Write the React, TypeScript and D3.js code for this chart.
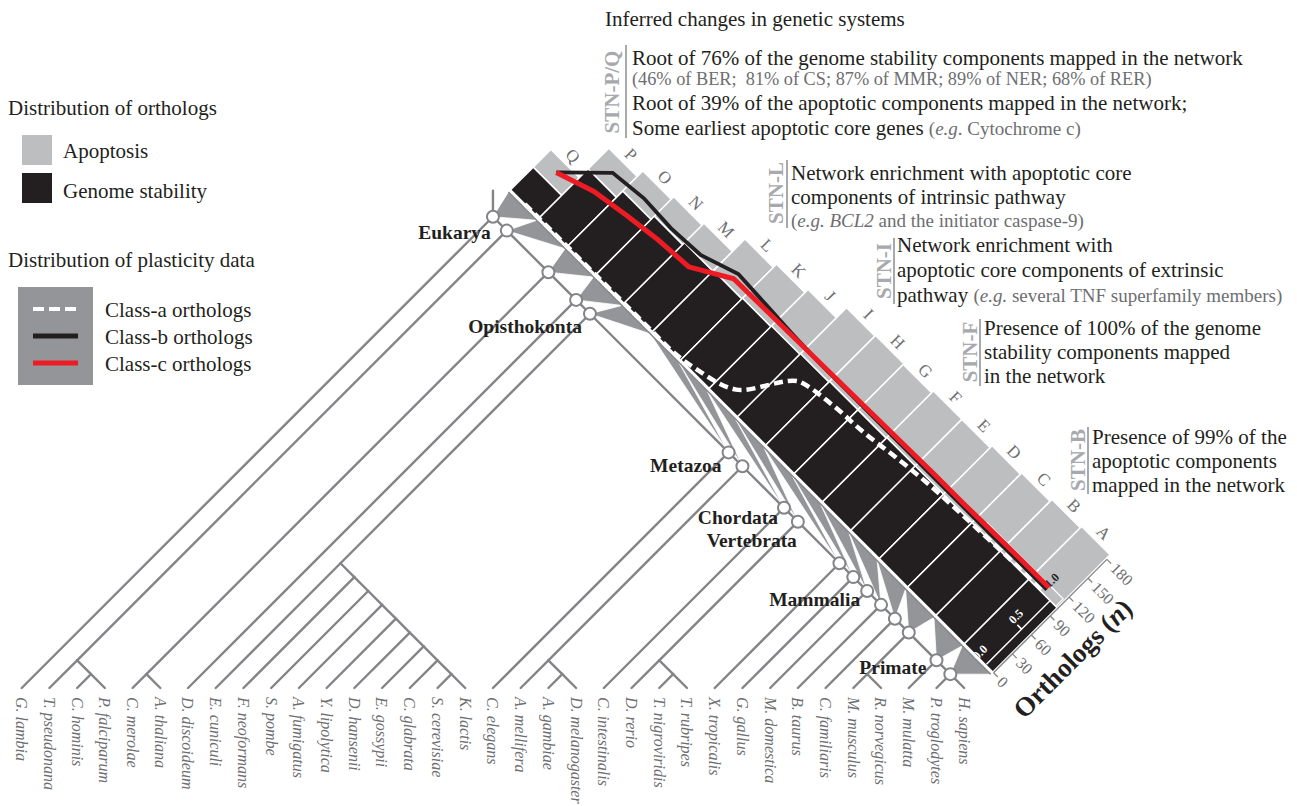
import * as d3 from "d3";

// ---- data ----
const species = [
  "G. lambia", "T. pseudonana", "C. hominis", "P. falciparum", "C. merolae", "A. thaliana",
  "D. discoideum", "E. cuniculi", "F. neoformans", "S. pombe", "A. fumigatus", "Y. lipolytica",
  "D. hansenii", "E. gossypii", "C. glabrata", "S. cerevisiae", "K. lactis", "C. elegans",
  "A. mellifera", "A. gambiae", "D. melanogaster", "C. intestinalis", "D. rerio",
  "T. nigroviridis", "T. rubripes", "X. tropicalis", "G. gallus", "M. domestica", "B. taurus",
  "C. familiaris", "M. musculus", "R. norvegicus", "M. mulatta", "P. troglodytes", "H. sapiens",
];

const fungi = ["E. cuniculi", ["F. neoformans", ["S. pombe", ["A. fumigatus", ["Y. lipolytica",
  ["D. hansenii", ["E. gossypii", ["C. glabrata", ["S. cerevisiae", "K. lactis"]]]]]]]]];
const vertebrates = ["X. tropicalis", ["G. gallus", ["M. domestica", ["B. taurus", ["C. familiaris",
  [["M. musculus", "R. norvegicus"], ["M. mulatta", ["P. troglodytes", "H. sapiens"]]]]]]]];
const metazoa = ["C. elegans", [["A. mellifera", ["A. gambiae", "D. melanogaster"]],
  ["C. intestinalis", [["D. rerio", ["T. nigroviridis", "T. rubripes"]], vertebrates]]]];
const topology = ["G. lambia", [["T. pseudonana", ["C. hominis", "P. falciparum"]],
  [["C. merolae", "A. thaliana"], ["D. discoideum", [fungi, metazoa]]]]];

const cells = ["Q", "P", "O", "N", "M", "L", "K", "J", "I", "H", "G", "F", "E", "D", "C", "B", "A"];
const genomeStability = [36, 78, 88, 93, 96, 97, 98, 99, 100, 101, 101, 102, 102, 102, 102, 102, 102];
const apoptosis = [28, 33, 32, 31, 31, 50, 54, 58, 73, 73, 72, 74, 74, 77, 79, 82, 84];
const orthologTicks = [0, 30, 60, 90, 120, 150, 180];

const classA = [0, 0, 0, 0, 0, 0, 0.05, 0.18, 0.68, 0.745, 0.77, 0.82, 0.86, 0.88, 0.895, 0.91, 0.925];
const classB = [0.44, 0.83, 0.87, 0.85, 0.87, 1.0, 0.98, 0.96, 0.945, 0.945, 0.945, 0.945, 0.945, 0.945, 0.945, 0.95, 0.95];
const classC = [0.44, 0.57, 0.63, 0.68, 0.705, 0.935, 0.94, 0.945, 0.95, 0.955, 0.96, 0.965, 0.97, 0.97, 0.975, 0.98, 0.98];
const plasticityTicks = [0, 0.5, 1];

// clade labels: backbone node index, dx, dy
const cladeLabels: [string, number, number, number][] = [
  ["Eukarya", 1, -16, 8],
  ["Opisthokonta", 4, -8, 19],
  ["Metazoa", 5, -7, 20],
  ["Chordata", 7, -6, 16],
  ["Vertebrata", 8, -1, 25],
  ["Mammalia", 11, -7, 15],
  ["Primate", 15, -10, 14],
];

const SERIF = "'Liberation Serif', 'DejaVu Serif', serif";
const DARK = "#231f20";
const LIGHT = "#bcbec0";
const MID = "#939598";
const TREE = "#838487";
const STN = "#a7a9ac";
const LABEL = "#6d6e71";
const RED = "#ed1c24";
const R2 = Math.SQRT1_2;

export default function App() {
  const leafY = 688;
  const leafX = d3.scalePoint<string>().domain(species).range([21.7, 964.2]);

  const root: any = d3.hierarchy<any>(topology, (d) => (Array.isArray(d) ? d : null));
  root.each((n: any) => {
    const xs = n.leaves().map((l: any) => leafX(l.data)!);
    const xl = d3.min(xs)!, xr = d3.max(xs)!;
    n.x = (xl + xr) / 2;
    n.y = leafY - (xr - xl) / 2;
  });
  const hs = root.leaves().find((l: any) => l.data === "H. sapiens");
  const backbone: any[] = hs.ancestors().slice(1).reverse();

  // rotated strip frame (s along the backbone, h away from it)
  const ox = root.x + R2 * (-6.6 + 31.5);
  const oy = root.y + R2 * (-6.6 - 31.5);
  const toScreen = (s: number, h: number) => [ox + R2 * (s + h), oy + R2 * (s - h)];
  const stripLen = 682;
  const band = d3.scaleBand<string>().domain(cells).range([0, stripLen]);
  const bw = band.bandwidth();
  const hScale = d3.scaleLinear().domain([0, 180]).range([0, 160.4]);
  const pScale = d3.scaleLinear().domain([0, 1]).range([0, 101.5]);
  const cx = (i: number) => band(cells[i])! + bw / 2;

  const line = d3.line<number>().x((_, i) => cx(i)).y((v) => -pScale(v));
  const smooth = d3.line<number>().x((_, i) => cx(i)).y((v) => -pScale(v)).curve(d3.curveMonotoneX);
  const L = stripLen;

  return (
    <svg width={1297} height={806} style={{ position: "absolute", left: 0, top: 0, background: "#fff" }}
      fontFamily={SERIF}>
      {/* legend */}
      <g fill={DARK} fontSize={21}>
        <text x={8} y={115}>Distribution of orthologs</text>
        <rect x={22} y={135} width={30} height={30} fill={LIGHT} />
        <text x={63} y={158}>Apoptosis</text>
        <rect x={22} y={173} width={30} height={30} fill={DARK} />
        <text x={63} y={198}>Genome stability</text>
        <text x={8} y={267}>Distribution of plasticity data</text>
        <rect x={18} y={287} width={75} height={98} fill={MID} />
        <line x1={33} x2={78} y1={309} y2={309} stroke="#fff" strokeWidth={4} strokeDasharray="11 5" />
        <line x1={33} x2={78} y1={336} y2={336} stroke={DARK} strokeWidth={5} />
        <line x1={33} x2={78} y1={363} y2={363} stroke={RED} strokeWidth={5} />
        <text x={105} y={317}>Class-a orthologs</text>
        <text x={105} y={344}>Class-b orthologs</text>
        <text x={105} y={371}>Class-c orthologs</text>
      </g>

      {/* tree */}
      <g stroke={TREE} strokeWidth={2.4} strokeLinecap="round">
        {root.links().map((lk: any, i: number) => (
          <line key={i} x1={lk.source.x} y1={lk.source.y} x2={lk.target.x} y2={lk.target.y} />
        ))}
        <line x1={root.x} y1={root.y} x2={root.x} y2={root.y - 26} />
      </g>

      {/* wedges from backbone nodes to their bars */}
      <g fill={MID} stroke="#fff" strokeWidth={0.8}>
        {backbone.map((n, i) => {
          const a = toScreen(band(cells[i])!, -3);
          const b = toScreen(band(cells[i])! + bw, -3);
          return <polygon key={i} points={`${n.x},${n.y} ${a[0]},${a[1]} ${b[0]},${b[1]}`} />;
        })}
      </g>

      {/* strip */}
      <g transform={`translate(${ox},${oy}) rotate(45)`}>
        <line x1={0} x2={L} y1={3} y2={3} stroke={TREE} strokeWidth={1.5} />
        {cells.map((c, i) => (
          <g key={c} stroke="#fff" strokeWidth={1.5}>
            <rect x={band(c)} width={bw} y={-hScale(genomeStability[i] + apoptosis[i])}
              height={hScale(genomeStability[i] + apoptosis[i]) - hScale(genomeStability[i])} fill={LIGHT} />
            <rect x={band(c)} width={bw} y={-hScale(genomeStability[i])} height={hScale(genomeStability[i])} fill={DARK} />
          </g>
        ))}
        {cells.map((c, i) => (
          <text key={c} x={cx(i)} y={-(hScale(genomeStability[i] + apoptosis[i]) + 11)} fontSize={17}
            fill={LABEL} textAnchor="middle" dominantBaseline="central">{c}</text>
        ))}

        {/* plasticity scale */}
        <g stroke="#fff" strokeWidth={1.5} fill="none">
          <line x1={L - 10} x2={L - 10} y1={-1} y2={-hScale(genomeStability[16])} />
          <line x1={L - 16} x2={L - 10} y1={-pScale(0.5)} y2={-pScale(0.5)} />
          <polyline strokeWidth={1.2}
            points={`${L - 110},${-pScale(1)} ${L - 2},${-pScale(1)} ${L - 2},${-hScale(genomeStability[16])}`} />
        </g>
        {plasticityTicks.map((v) => (
          <text key={v} transform={`translate(${L - 23},${-(pScale(v) + 5)}) rotate(-90)`} fontSize={12}
            fontWeight="bold" fill={v < 1 ? "#fff" : DARK} textAnchor="middle" dominantBaseline="central">
            {v.toFixed(1)}
          </text>
        ))}

        <path d={smooth(classA)!} fill="none" stroke="#fff" strokeWidth={4.5} strokeDasharray="9 5" />
        <path d={line(classB)!} fill="none" stroke={DARK} strokeWidth={3.8} strokeLinejoin="miter" />
        <path d={line(classC)!} fill="none" stroke={RED} strokeWidth={5} strokeLinejoin="round" />

        {/* ortholog axis */}
        <line x1={L + 1} x2={L + 1} y1={0} y2={-hScale(180)} stroke={TREE} strokeWidth={1.3} />
        {orthologTicks.map((t) => (
          <g key={t}>
            <line x1={L + 1} x2={L + 7} y1={-hScale(t)} y2={-hScale(t)} stroke={TREE} strokeWidth={1.3} />
            <text x={L + 10} y={-hScale(t)} fontSize={16} fill={LABEL} dominantBaseline="central">{t}</text>
          </g>
        ))}
        <text transform={`translate(${L + 47},${-66}) rotate(-90)`} fontSize={27} fontWeight="bold"
          fill={DARK} textAnchor="middle" dominantBaseline="central">
          Orthologs (<tspan fontStyle="italic">n</tspan>)
        </text>
      </g>

      {/* node circles */}
      <g fill="#fff" stroke={TREE} strokeWidth={2}>
        {backbone.map((n, i) => <circle key={i} cx={n.x} cy={n.y} r={6} />)}
      </g>

      {/* clade labels */}
      <g fontSize={19.5} fontWeight="bold" fill={DARK} textAnchor="end">
        {cladeLabels.map(([t, k, dx, dy]) => (
          <text key={t} x={backbone[k].x + dx} y={backbone[k].y + dy}>{t}</text>
        ))}
      </g>

      {/* leaf labels */}
      <g fontSize={16} fontStyle="italic" fill={LABEL}>
        {species.map((s) => (
          <text key={s} transform={`translate(${leafX(s)},${leafY + 9}) rotate(90)`} dy="0.35em">{s}</text>
        ))}
      </g>

      {/* annotations */}
      <g fontSize={21} fill={DARK}>
        <text x={605} y={26}>Inferred changes in genetic systems</text>

        <text transform="translate(612,92) rotate(-90)" textAnchor="middle" dominantBaseline="central"
          fontWeight="bold" fill={STN}>STN-P/Q</text>
        <line x1={626} x2={626} y1={45} y2={138} stroke={STN} strokeWidth={2} />
        <text x={632} y={65}>Root of 76% of the genome stability components mapped in the network</text>
        <text x={632} y={85} fontSize={18.3} fill={LABEL} style={{ whiteSpace: "pre" }}>
          (46% of BER;  81% of CS; 87% of MMR; 89% of NER; 68% of RER)
        </text>
        <text x={632} y={110}>Root of 39% of the apoptotic components mapped in the network;</text>
        <text x={632} y={135}>Some earliest apoptotic core genes{" "}
          <tspan fill={LABEL} fontSize={19}>(<tspan fontStyle="italic">e.g</tspan>. Cytochrome c)</tspan>
        </text>

        <text transform="translate(776,193) rotate(-90)" textAnchor="middle" dominantBaseline="central"
          fontWeight="bold" fill={STN}>STN-L</text>
        <line x1={787} x2={787} y1={160} y2={228} stroke={STN} strokeWidth={2} />
        <text x={791} y={180}>Network enrichment with apoptotic core</text>
        <text x={791} y={204}>components of intrinsic pathway</text>
        <text x={791} y={227} fontSize={19} fill={LABEL}>
          (<tspan fontStyle="italic">e.g. BCL2</tspan> and the initiator caspase-9)
        </text>

        <text transform="translate(884,271) rotate(-90)" textAnchor="middle" dominantBaseline="central"
          fontWeight="bold" fill={STN}>STN-I</text>
        <line x1={894} x2={894} y1={238} y2={304} stroke={STN} strokeWidth={2} />
        <text x={897} y={252}>Network enrichment with</text>
        <text x={897} y={277}>apoptotic core components of extrinsic</text>
        <text x={897} y={302}>pathway{" "}
          <tspan fill={LABEL} fontSize={19}>(<tspan fontStyle="italic">e.g.</tspan> several TNF superfamily members)</tspan>
        </text>

        <text transform="translate(970,352) rotate(-90)" textAnchor="middle" dominantBaseline="central"
          fontWeight="bold" fill={STN}>STN-F</text>
        <line x1={980} x2={980} y1={319} y2={386} stroke={STN} strokeWidth={2} />
        <text x={984} y={335}>Presence of 100% of the genome</text>
        <text x={984} y={359}>stability components mapped</text>
        <text x={984} y={383}>in the network</text>

        <text transform="translate(1078,460) rotate(-90)" textAnchor="middle" dominantBaseline="central"
          fontWeight="bold" fill={STN}>STN-B</text>
        <line x1={1088} x2={1088} y1={427} y2={494} stroke={STN} strokeWidth={2} />
        <text x={1092} y={444}>Presence of 99% of the</text>
        <text x={1092} y={468}>apoptotic components</text>
        <text x={1092} y={492}>mapped in the network</text>
      </g>
    </svg>
  );
}
